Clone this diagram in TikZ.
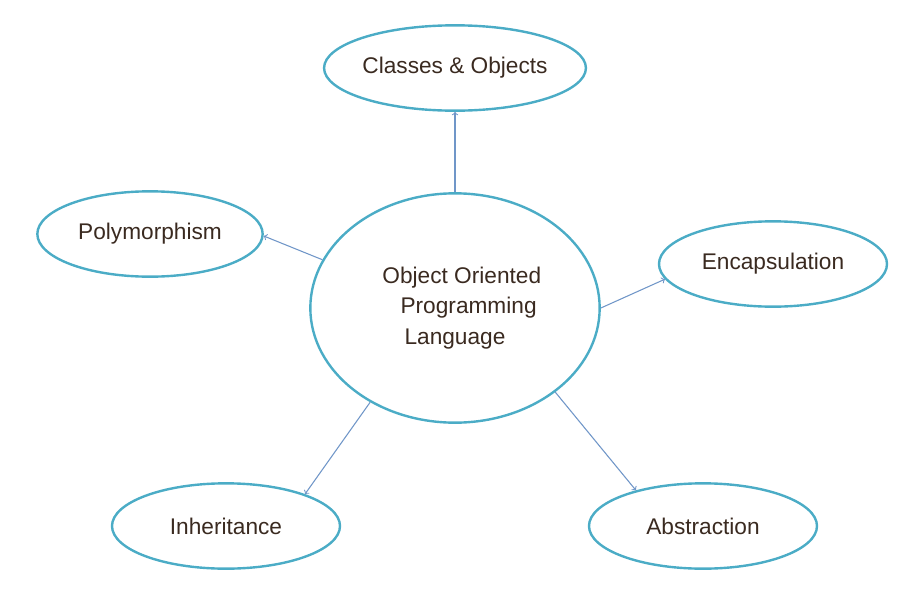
\documentclass[tikz,border=0pt]{standalone}
\usepackage{fontspec}
\setmainfont{Liberation Sans}
\usetikzlibrary{shapes.geometric}
\definecolor{Ring}{HTML}{4BACC6}
\definecolor{Link}{HTML}{7096C8}
\definecolor{Ink}{HTML}{3A2A20}
\tikzset{
  topic/.style={ellipse, draw=Ring, line width=1.8pt, text=Ink, font=\fontsize{17}{23}\selectfont,
    minimum width=171pt, minimum height=64pt, inner sep=0pt},
  link/.style={->, draw=Link, line width=0.8pt}
}
\begin{document}
\begin{tikzpicture}[x=0.75pt,y=-0.75pt]
        \useasboundingbox (0,0) rectangle (900,600);
        % ellipses
        \node[topic, minimum width=217pt, minimum height=172pt, align=center] (OOP) at (455,308)
          {\hspace{0.6em}Object Oriented\\\hspace{1.2em}Programming\\Language\hspace{3em}};
        \node[topic] (Cls) at (455,68) {Classes \& Objects};
        \node[topic, minimum width=169pt] (Poly) at (150,234) {Polymorphism};
        \node[topic] (Enc) at (773,264) {Encapsulation};
        \node[topic] (Inh) at (226,526) {Inheritance};
        \node[topic] (Abs) at (703,526) {Abstraction};

        % arrows
        \draw[link] (OOP.90) -- (Cls.270);
        \draw[link] (OOP.160) -- (Poly.359);
        \draw[link] (OOP.0) -- (Enc.188);
        \draw[link] (OOP.228) -- (Inh.22);
        \draw[link] (OOP.320) -- (Abs.152);
\end{tikzpicture}
\end{document}
